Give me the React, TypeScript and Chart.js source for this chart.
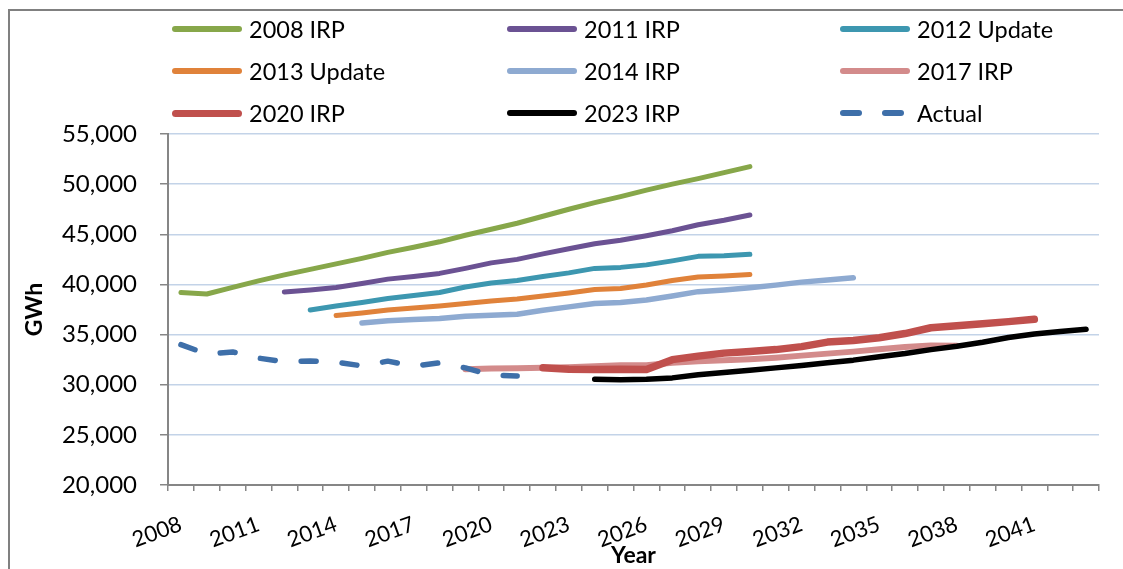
import React, { useEffect, useRef } from 'react';
import { Chart, registerables } from 'chart.js';

Chart.register(...registerables);

const FONT = 'Lato, "Noto Sans", sans-serif';

// Category axis: years 2008 - 2043
const years = [
  '2008', '2009', '2010', '2011', '2012', '2013', '2014', '2015', '2016',
  '2017', '2018', '2019', '2020', '2021', '2022', '2023', '2024', '2025',
  '2026', '2027', '2028', '2029', '2030', '2031', '2032', '2033', '2034',
  '2035', '2036', '2037', '2038', '2039', '2040', '2041', '2042', '2043',
];

// Y ticks
const yMin = 20000;
const yMax = 55000;
const yStep = 5000;

// Series (first year, values in GWh)
const irp2008Start = 2008;
const irp2008 = [39200, 39050, 39700, 40350, 40950, 41500, 42050, 42600, 43200, 43700, 44250, 44900, 45500, 46100, 46800, 47500, 48150, 48750, 49400, 50000, 50550, 51150, 51750];

const irp2011Start = 2012;
const irp2011 = [39250, 39450, 39700, 40100, 40530, 40800, 41100, 41600, 42150, 42500, 43050, 43550, 44050, 44400, 44850, 45350, 45950, 46400, 46920];

const upd2012Start = 2013;
const upd2012 = [37450, 37850, 38200, 38600, 38900, 39200, 39750, 40150, 40400, 40800, 41150, 41600, 41700, 41950, 42350, 42800, 42850, 43000];

const upd2013Start = 2014;
const upd2013 = [36900, 37150, 37450, 37650, 37850, 38100, 38350, 38550, 38850, 39150, 39500, 39600, 39950, 40400, 40750, 40850, 41000];

const irp2014Start = 2015;
const irp2014 = [36150, 36370, 36500, 36600, 36830, 36930, 37030, 37430, 37760, 38100, 38200, 38450, 38850, 39280, 39450, 39670, 39930, 40230, 40430, 40660];

const irp2017Start = 2019;
const irp2017 = [31550, 31620, 31650, 31700, 31750, 31850, 31950, 31950, 32200, 32350, 32450, 32550, 32700, 32900, 33100, 33300, 33530, 33750, 33900, 33880];

const irp2020Start = 2022;
const irp2020 = [31680, 31550, 31510, 31550, 31510, 32500, 32850, 33150, 33320, 33500, 33800, 34250, 34400, 34680, 35100, 35680, 35880, 36080, 36290, 36520];

const irp2023Start = 2024;
const irp2023 = [30550, 30500, 30550, 30680, 31000, 31220, 31450, 31680, 31920, 32180, 32450, 32780, 33110, 33500, 33840, 34240, 34700, 35050, 35300, 35520];

const actualStart = 2008;
const actual = [34000, 33050, 33270, 32650, 32300, 32370, 32250, 31880, 32350, 31850, 32180, 31680, 30950, 30880];

const seriesNames = ['2008 IRP', '2011 IRP', '2012 Update', '2013 Update', '2014 IRP', '2017 IRP', '2020 IRP', '2023 IRP', 'Actual'];
const seriesColors = ['#87a74a', '#6b5293', '#3d97b0', '#e0823a', '#8eaad1', '#d38b8b', '#c0504d', '#000000', '#3e6fa9'];
const seriesWidths = [5, 5, 5, 5, 5.5, 6, 7.5, 5.5, 5.5];

const pad = (start: number, vals: number[]) =>
  years.map((y) => {
    const i = Number(y) - start;
    return i >= 0 && i < vals.length ? vals[i] : null;
  });

const seriesData = [
  pad(irp2008Start, irp2008),
  pad(irp2011Start, irp2011),
  pad(upd2012Start, upd2012),
  pad(upd2013Start, upd2013),
  pad(irp2014Start, irp2014),
  pad(irp2017Start, irp2017),
  pad(irp2020Start, irp2020),
  pad(irp2023Start, irp2023),
  pad(actualStart, actual),
];

const legendColX = [172, 507, 840];
const legendRowY = [29, 71, 113];

function Legend() {
  return (
    <>
      {seriesNames.map((name, i) => {
        const col = i % 3;
        const row = Math.floor(i / 3);
        const x = legendColX[col];
        const y = legendRowY[row];
        const color = seriesColors[i];
        const dashed = name === 'Actual';
        const h = i === 6 ? 7 : 6;
        return (
          <React.Fragment key={name}>
            {dashed ? (
              <>
                <div style={{ position: 'absolute', left: x, top: y - h / 2, width: 22, height: h, background: color, borderRadius: h / 2 }} />
                <div style={{ position: 'absolute', left: x + 42, top: y - h / 2, width: 22, height: h, background: color, borderRadius: h / 2 }} />
              </>
            ) : (
              <div style={{ position: 'absolute', left: x, top: y - h / 2, width: 70, height: h, background: color, borderRadius: h / 2 }} />
            )}
            <div
              style={{
                position: 'absolute',
                left: x + 77,
                top: y - 15,
                height: 30,
                lineHeight: '30px',
                fontFamily: FONT,
                fontSize: 23.5,
                color: '#000',
                whiteSpace: 'nowrap',
              }}
            >
              {name}
            </div>
          </React.Fragment>
        );
      })}
    </>
  );
}

export default function App() {
  const canvasRef = useRef<HTMLCanvasElement | null>(null);

  useEffect(() => {
    const canvas = canvasRef.current;
    if (!canvas) return;
    const n = seriesNames.length;
    const chart = new Chart(canvas, {
      type: 'line',
      data: {
        labels: years,
        datasets: seriesNames.map((name, i) => ({
          label: name,
          data: seriesData[i],
          borderColor: seriesColors[i],
          backgroundColor: seriesColors[i],
          borderWidth: seriesWidths[i],
          borderDash: name === 'Actual' ? [15, 26] : [],
          borderCapStyle: 'round' as const,
          borderJoinStyle: 'round' as const,
          pointRadius: 0,
          pointHoverRadius: 0,
          tension: 0,
          fill: false,
          spanGaps: false,
          order: n - 1 - i,
        })),
      },
      options: {
        responsive: false,
        maintainAspectRatio: false,
        animation: false,
        events: [],
        layout: { padding: { left: 0, right: 24, top: 134, bottom: 0 } },
        plugins: {
          legend: { display: false },
          tooltip: { enabled: false },
          title: { display: false },
        },
        scales: {
          x: {
            type: 'category',
            offset: true,
            afterFit: (s: any) => {
              s.height = 84;
            },
            grid: {
              display: true,
              drawOnChartArea: false,
              drawTicks: true,
              tickLength: 6,
              tickColor: '#868686',
              lineWidth: 1.5,
              offset: true,
            },
            border: { display: true, color: '#868686', width: 2 },
            ticks: {
              autoSkip: false,
              minRotation: 20,
              maxRotation: 20,
              padding: 20,
              color: '#000',
              font: { family: FONT, size: 22 },
              callback: (_v: any, i: number) => (i % 3 === 0 ? years[i] : ''),
            },
            title: {
              display: true,
              text: 'Year',
              color: '#000',
              font: { family: FONT, size: 23, weight: 'bold' },
              padding: { top: 0, bottom: 0 },
            },
          },
          y: {
            min: yMin,
            max: yMax,
            afterFit: (s: any) => {
              s.width = 168;
            },
            grid: {
              color: '#c3d3e8',
              lineWidth: 1.5,
              drawTicks: true,
              tickLength: 8,
              tickColor: '#868686',
            },
            border: { display: true, color: '#868686', width: 2 },
            ticks: {
              stepSize: yStep,
              padding: 23,
              color: '#000',
              font: { family: FONT, size: 24 },
              callback: (v: any) => Number(v).toLocaleString('en-US'),
            },
            title: {
              display: true,
              text: 'GWh',
              color: '#000',
              font: { family: FONT, size: 23, weight: 'bold' },
              padding: { top: 21, bottom: 0 },
            },
          },
        },
      },
    });
    return () => chart.destroy();
  }, []);

  return (
    <div style={{ position: 'absolute', left: 0, top: 0, width: 1123, height: 569, background: '#fff', overflow: 'hidden' }}>
      <div style={{ position: 'absolute', left: 8, top: 9, width: 1115, height: 2, background: '#808080' }} />
      <div style={{ position: 'absolute', left: 8, top: 9, width: 2, height: 560, background: '#808080' }} />
      <canvas ref={canvasRef} width={1123} height={569} style={{ position: 'absolute', left: 0, top: 0, width: 1123, height: 569 }} />
      <Legend />
    </div>
  );
}
